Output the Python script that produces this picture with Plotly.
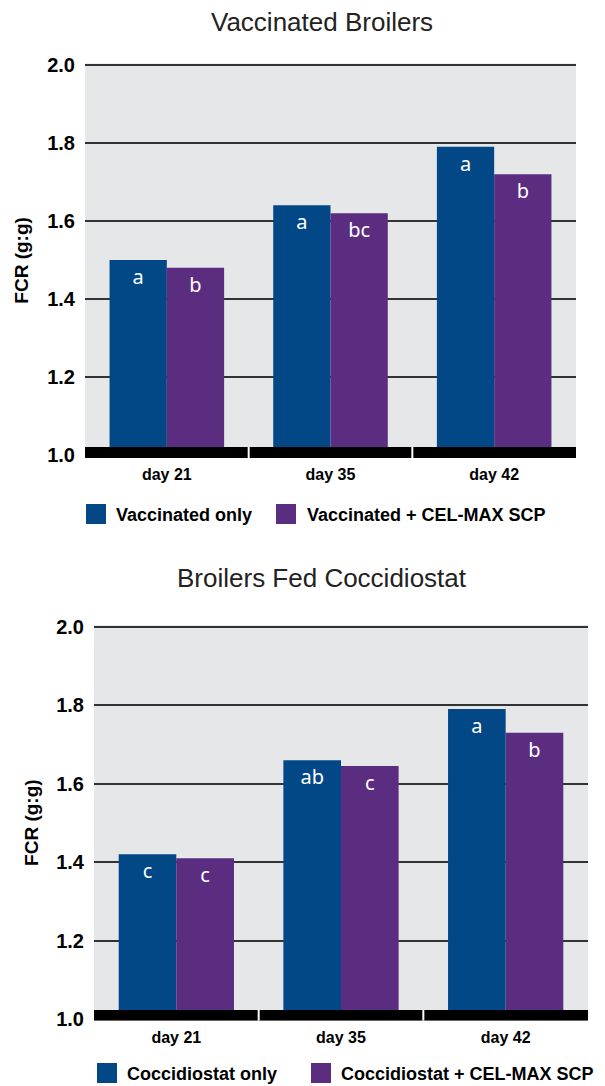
import plotly.graph_objects as go

# ---------------- data ----------------
days = ["day 21", "day 35", "day 42"]

vacc_names = ["Vaccinated only", "Vaccinated + CEL-MAX SCP"]
vacc_only = [1.50, 1.64, 1.79]
vacc_cel = [1.48, 1.62, 1.72]
vacc_only_sig = ["a", "a", "a"]
vacc_cel_sig = ["b", "bc", "b"]

cocc_names = ["Coccidiostat only", "Coccidiostat + CEL-MAX SCP"]
cocc_only = [1.42, 1.66, 1.79]
cocc_cel = [1.41, 1.645, 1.73]
cocc_only_sig = ["c", "ab", "a"]
cocc_cel_sig = ["c", "c", "b"]

titles = ["Vaccinated Broilers", "Broilers Fed Coccidiostat"]
y_title = "FCR (g:g)"
y_ticks = [1.0, 1.2, 1.4, 1.6, 1.8, 2.0]
y_ticktext = ["1.0", "1.2", "1.4", "1.6", "1.8", "2.0"]

# ---------------- style ----------------
W, H = 605, 1086
BLUE = "#034886"
PURPLE = "#5b2d81"
BG = "#e6e7e9"
NARROW = "Liberation Sans Narrow, Arial Narrow, Liberation Sans, Arial, sans-serif"
LETTER_FONT = "Noto Sans, Open Sans, sans-serif"


def px(y):
    return 1 - y / H


fig = go.Figure()

panels = [
    dict(xa="x", ya="y", names=vacc_names, s1=vacc_only, s2=vacc_cel,
         t1=vacc_only_sig, t2=vacc_cel_sig,
         xdom=[85 / W, 576 / W], ytop=63.4, ybot=458.0, yrange=[0.9923, 2.004],
         black_top=1.0205, title_y=22, axis_title_x=22,
         leg_y=514, leg=[(86, 114), (276, 305)]),
    dict(xa="x2", ya="y2", names=cocc_names, s1=cocc_only, s2=cocc_cel,
         t1=cocc_only_sig, t2=cocc_cel_sig,
         xdom=[94 / W, 588 / W], ytop=625.1, ybot=1020.7, yrange=[0.9962, 2.004],
         black_top=1.0234, title_y=578, axis_title_x=32,
         leg_y=1073, leg=[(97, 125), (311, 339)]),
]

shapes = []
annotations = []

for i, p in enumerate(panels):
    for name, vals, sig, col in [(p["names"][0], p["s1"], p["t1"], BLUE),
                                 (p["names"][1], p["s2"], p["t2"], PURPLE)]:
        fig.add_trace(go.Bar(
            x=days, y=[v - 1.0 for v in vals], base=1.0, name=name,
            marker=dict(color=col, line=dict(width=0)),
            text=sig, textposition="inside", insidetextanchor="end",
            textangle=0, constraintext="none",
            insidetextfont=dict(color="white", size=20, family=LETTER_FONT),
            xaxis=p["xa"], yaxis=p["ya"], showlegend=False,
            hovertemplate="%{x}: %{y}<extra>" + name + "</extra>",
        ))

    # thick black baseline with white separators
    shapes.append(dict(type="rect", xref=p["xa"], yref=p["ya"],
                       x0=-0.5, x1=2.5, y0=p["yrange"][0], y1=p["black_top"],
                       fillcolor="black", line=dict(width=0), layer="above"))
    for xs in [0.5, 1.5]:
        shapes.append(dict(type="line", xref=p["xa"], yref=p["ya"],
                           x0=xs, x1=xs, y0=p["yrange"][0], y1=p["black_top"],
                           line=dict(color="white", width=2), layer="above"))

    # panel title
    annotations.append(dict(text=titles[i], xref="paper", yref="paper",
                            x=322 / W, y=px(p["title_y"]), showarrow=False,
                            xanchor="center", yanchor="middle",
                            font=dict(family=NARROW, size=26, color="#222222")))
    # y-axis title
    yc = (p["ytop"] + p["ybot"]) / 2
    annotations.append(dict(text="<b>" + y_title + "</b>", xref="paper", yref="paper",
                            x=p["axis_title_x"] / W, y=px(yc), showarrow=False,
                            textangle=-90, xanchor="center", yanchor="middle",
                            font=dict(family=NARROW, size=19, color="black")))
    # legend (squares + labels)
    colors = [BLUE, PURPLE]
    for k, (sx, tx) in enumerate(p["leg"]):
        shapes.append(dict(type="rect", xref="paper", yref="paper",
                           x0=sx / W, x1=(sx + 20) / W,
                           y0=px(p["leg_y"] + 10), y1=px(p["leg_y"] - 10),
                           fillcolor=colors[k], line=dict(width=0)))
        annotations.append(dict(text="<b>" + p["names"][k] + "</b>",
                                xref="paper", yref="paper",
                                x=tx / W, y=px(p["leg_y"] + 1), showarrow=False,
                                xanchor="left", yanchor="middle",
                                font=dict(family=NARROW, size=18, color="black")))

axis_common_x = dict(showgrid=False, zeroline=False, showline=False, ticks="",
                     tickfont=dict(family=NARROW, size=16, color="black", weight="bold"),
                     ticklabelstandoff=5, fixedrange=True, automargin=False)
axis_common_y = dict(tickvals=y_ticks, ticktext=y_ticktext, showgrid=True,
                     gridcolor="#333333", gridwidth=1.6, zeroline=False,
                     showline=False, ticks="", ticklabelstandoff=9,
                     tickfont=dict(family=NARROW, size=20, color="black", weight="bold"),
                     fixedrange=True, automargin=False)

fig.update_layout(
    width=W, height=H,
    margin=dict(l=0, r=0, t=0, b=0, pad=0, autoexpand=False),
    paper_bgcolor="white",
    plot_bgcolor=BG,
    barmode="group", bargap=0.30, bargroupgap=0.0,
    showlegend=False,
    xaxis=dict(domain=panels[0]["xdom"], anchor="y", **axis_common_x),
    yaxis=dict(domain=[px(panels[0]["ybot"]), px(panels[0]["ytop"])], anchor="x",
               range=panels[0]["yrange"], **axis_common_y),
    xaxis2=dict(domain=panels[1]["xdom"], anchor="y2", **axis_common_x),
    yaxis2=dict(domain=[px(panels[1]["ybot"]), px(panels[1]["ytop"])], anchor="x2",
                range=panels[1]["yrange"], **axis_common_y),
    shapes=shapes,
    annotations=annotations,
)

fig.write_html(
    "out.html",
    config={"displayModeBar": False},
    post_script=(
        "document.body.style.margin='0';"
        "document.body.style.overflow='hidden';"
        "var g=document.getElementById('{plot_id}');"
        "g.style.position='absolute';g.style.top='0';g.style.left='0';"
    ),
)
